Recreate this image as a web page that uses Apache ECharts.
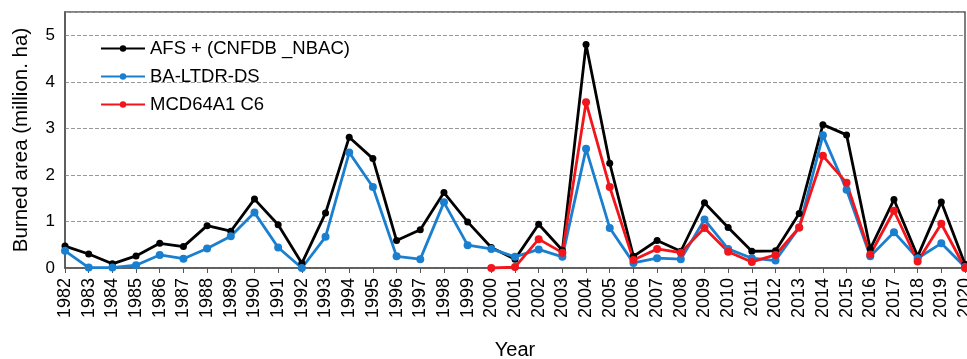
<!DOCTYPE html>
<html>
<head>
<meta charset="utf-8">
<script src="https://cdn.jsdelivr.net/npm/echarts@6/dist/echarts.min.js"></script>
<style>
  html, body { margin: 0; padding: 0; background: #fff; }
  #chart { width: 967px; height: 359px; }
</style>
</head>
<body>
<div id="chart"></div>
<script>
// 年份
var years = [];
for (var y = 1982; y <= 2020; y++) years.push(String(y));

// AFS + (CNFDB _NBAC)
var afs = [0.47, 0.30, 0.09, 0.26, 0.53, 0.46, 0.91, 0.79, 1.48, 0.93, 0.10, 1.18, 2.81, 2.35,
  0.59, 0.82, 1.62, 0.99, 0.44, 0.19, 0.94, 0.38, 4.80, 2.25, 0.25, 0.59, 0.36, 1.40,
  0.87, 0.36, 0.37, 1.17, 3.08, 2.86, 0.41, 1.47, 0.25, 1.42, 0.08];
// BA-LTDR-DS
var ltdr = [0.37, 0.01, 0.01, 0.06, 0.28, 0.20, 0.42, 0.68, 1.19, 0.44, 0.00, 0.67, 2.48, 1.74,
  0.25, 0.19, 1.41, 0.49, 0.41, 0.24, 0.40, 0.24, 2.56, 0.86, 0.11, 0.21, 0.19, 1.04,
  0.41, 0.21, 0.16, 0.87, 2.85, 1.68, 0.25, 0.77, 0.21, 0.53, 0.02];
// MCD64A1 C6 (从2000年开始)
var mcd = [null, null, null, null, null, null, null, null, null, null, null, null, null, null,
  null, null, null, null, 0.00, 0.02, 0.62, 0.33, 3.56, 1.74, 0.17, 0.41, 0.33, 0.86,
  0.35, 0.13, 0.28, 0.87, 2.41, 1.83, 0.29, 1.23, 0.14, 0.95, 0.00];

var names = ['AFS + (CNFDB _NBAC)', 'BA-LTDR-DS', 'MCD64A1 C6'];
var colors = ['#000000', '#1a7fcf', '#f2161c'];
var yTicks = [0, 1, 2, 3, 4, 5];

var myChart = echarts.init(document.getElementById('chart'));

function mkSeries(name, data, color, size) {
  return {
    name: name,
    type: 'line',
    data: data,
    connectNulls: false,
    symbol: 'circle',
    symbolSize: size,
    itemStyle: { color: color },
    lineStyle: { color: color, width: 2.8 },
    emphasis: { disabled: true }
  };
}

var option = {
  animation: false,
  textStyle: { fontFamily: 'Liberation Sans, Arial, sans-serif' },
  grid: {
    left: 65, right: 2, top: 12, bottom: 91,
    containLabel: false, outerBoundsMode: 'none',
    show: true, borderColor: '#555', borderWidth: 1.5, backgroundColor: 'transparent'
  },
  legend: {
    data: names,
    orient: 'vertical',
    left: 95, top: 34,
    itemWidth: 44, itemHeight: 8, itemGap: 9,
    textStyle: { fontSize: 18.5, color: '#000', fontFamily: 'Liberation Sans, Arial, sans-serif' }
  },
  xAxis: {
    type: 'category',
    data: years,
    boundaryGap: false,
    name: 'Year',
    nameLocation: 'middle',
    nameGap: 72,
    nameTextStyle: { fontSize: 20, color: '#000' },
    axisLine: { lineStyle: { color: '#555', width: 1.5 } },
    axisTick: { alignWithLabel: true, length: 5, lineStyle: { color: '#555' } },
    axisLabel: { rotate: 90, fontSize: 18, color: '#000', interval: 0, margin: 10 },
    splitLine: { show: false }
  },
  yAxis: {
    type: 'value',
    min: 0, max: 5.5, interval: 1,
    name: 'Burned area (million. ha)',
    nameLocation: 'middle',
    nameGap: 33,
    nameTextStyle: { fontSize: 20.5, color: '#000' },
    axisLine: { show: true, lineStyle: { color: '#555', width: 1.5 } },
    axisTick: { show: false },
    axisLabel: {
      fontSize: 17, color: '#000', margin: 10,
      formatter: function (v) { return yTicks.indexOf(v) >= 0 ? String(v) : ''; }
    },
    splitLine: { show: true, lineStyle: { type: 'dashed', color: '#999', width: 1 } }
  },
  series: [
    mkSeries(names[0], afs, colors[0], 7),
    mkSeries(names[1], ltdr, colors[1], 8),
    mkSeries(names[2], mcd, colors[2], 8)
  ]
};

myChart.setOption(option, true);
</script>
</body>
</html>
